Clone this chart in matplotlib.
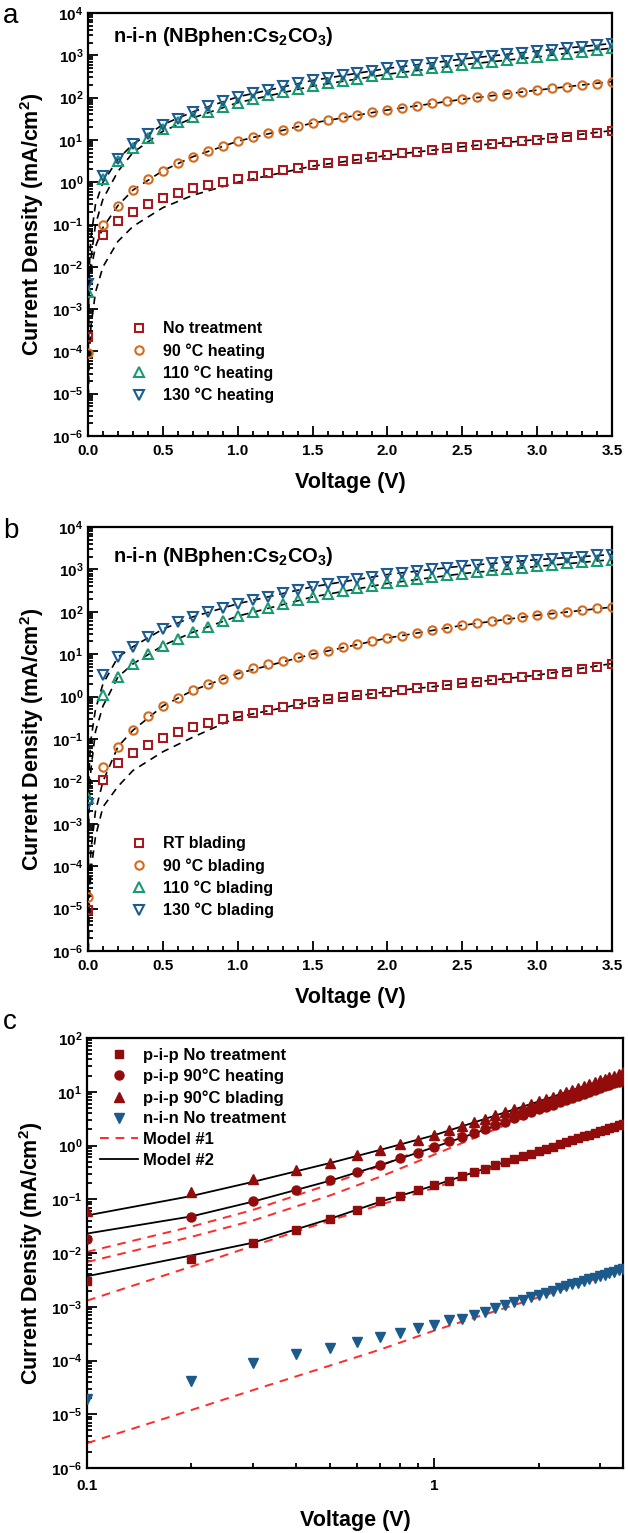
import numpy as np
import matplotlib
matplotlib.use('Agg')
import matplotlib.pyplot as plt
from matplotlib.ticker import FuncFormatter, LogLocator, MultipleLocator, FixedLocator, NullFormatter

plt.rcParams['font.family'] = ['Liberation Sans', 'DejaVu Sans']
plt.rcParams['font.weight'] = 'bold'
plt.rcParams['mathtext.fontset'] = 'custom'
plt.rcParams['mathtext.rm'] = 'Liberation Sans:bold'
plt.rcParams['mathtext.bf'] = 'Liberation Sans:bold'
plt.rcParams['mathtext.it'] = 'Liberation Sans:bold'
plt.rcParams['axes.linewidth'] = 1.6

#### DATA ##############################################################
# panel a / b : voltage sweep 0.0 .. 3.5 V in 0.1 V steps
volt = [0.0, 0.1, 0.2, 0.3, 0.4, 0.5, 0.6, 0.7, 0.8, 0.9, 1.0, 1.1, 1.2, 1.3, 1.4, 1.5, 1.6, 1.7,
        1.8, 1.9, 2.0, 2.1, 2.2, 2.3, 2.4, 2.5, 2.6, 2.7, 2.8, 2.9, 3.0, 3.1, 3.2, 3.3, 3.4, 3.5]

# panel a (heating)
a_none = [2.2e-4, 0.055, 0.12, 0.20, 0.30, 0.42, 0.55, 0.71, 0.85, 1.02, 1.2, 1.4, 1.65, 1.9, 2.2, 2.5,
          2.8, 3.15, 3.5, 3.9, 4.35, 4.8, 5.25, 5.75, 6.3, 6.9, 7.4, 8.1, 8.7, 9.5, 10.2, 11.2, 12.0,
          13.2, 14.5, 16.6]
a_90 = [9e-5, 0.098, 0.28, 0.65, 1.17, 1.87, 2.9, 4.0, 5.5, 7.2, 9.3, 11.8, 14.5, 17.5, 21, 25, 29.5,
        34, 39, 45, 51, 58, 65, 73, 82, 91, 101, 112, 124, 137, 150, 165, 180, 197, 215, 240]
a_110 = [2.5e-3, 1.2, 3.2, 6.5, 11, 18, 26, 34, 46, 60, 76, 94, 114, 136, 160, 187, 216, 248, 282,
         318, 357, 398, 442, 490, 540, 595, 652, 712, 776, 843, 915, 990, 1070, 1200, 1330, 1480]
a_130 = [4e-3, 1.4, 3.5, 7.9, 14, 23, 32, 46, 64, 82, 104, 128, 155, 185, 218, 255, 295, 340, 385,
         435, 490, 545, 605, 670, 740, 815, 895, 980, 1070, 1160, 1260, 1370, 1480, 1600, 1730, 1900]

# dashed model curves, panel a
fit_v = [0.002, 0.005, 0.01, 0.02, 0.05, 0.1, 0.2, 0.3, 0.5, 0.7, 1.0, 1.5, 2.0, 2.5, 3.0, 3.5]
a_fit_none = [4e-6, 2.5e-5, 1e-4, 4e-4, 2.5e-3, 0.01, 0.04, 0.09, 0.25, 0.49, 1.0, 2.4, 4.3, 6.9, 10.2, 16.6]
a_fit_90 = [2e-4, 1.5e-3, 4e-3, 9e-3, 0.03, 0.085, 0.28, 0.65, 1.87, 4.0, 9.3, 25, 51, 91, 150, 240]
a_fit_110 = [1e-4, 1e-3, 4e-3, 0.016, 0.1, 0.4, 1.8, 5.0, 16, 33, 76, 187, 357, 595, 915, 1480]
a_fit_130 = [3e-4, 3e-3, 0.012, 0.05, 0.3, 1.0, 3.5, 7.9, 23, 46, 104, 255, 490, 815, 1260, 1900]

# panel b (blading)
b_rt = [9.3e-6, 0.011, 0.027, 0.046, 0.072, 0.107, 0.145, 0.19, 0.24, 0.29, 0.35, 0.42, 0.49, 0.57,
        0.66, 0.76, 0.86, 0.96, 1.07, 1.18, 1.3, 1.43, 1.57, 1.72, 1.88, 2.05, 2.25, 2.45, 2.7, 2.95,
        3.2, 3.5, 3.9, 4.4, 5.0, 6.0]
b_90 = [1.9e-5, 0.022, 0.066, 0.16, 0.34, 0.6, 0.94, 1.4, 1.95, 2.6, 3.5, 4.6, 5.8, 7.1, 8.5, 10, 12,
        14.4, 17.4, 20.4, 24, 27.5, 31.6, 36.3, 41.7, 47.9, 53.7, 60, 67.6, 75.9, 83, 91, 100, 110,
        120, 129]
b_110 = [4e-3, 1.1, 2.9, 5.9, 10, 16, 23, 33, 45, 60, 79, 100, 126, 155, 186, 224, 263, 309, 355, 407,
         468, 525, 589, 661, 724, 794, 871, 955, 1023, 1096, 1175, 1259, 1380, 1479, 1585, 1698]
b_130 = [3e-3, 3.2, 8.5, 15, 25, 39, 58, 76, 100, 126, 155, 190, 229, 275, 331, 389, 447, 513, 589,
         676, 759, 832, 912, 1000, 1096, 1202, 1288, 1380, 1479, 1585, 1698, 1778, 1905, 1995, 2138, 2239]

b_fit_rt = [1e-6, 5e-6, 2e-5, 8e-5, 5e-4, 2.5e-3, 7.6e-3, 0.018, 0.05, 0.11, 0.33, 0.76, 1.3, 2.05, 3.2, 6.0]
b_fit_90 = [1e-6, 1e-5, 5e-5, 2.5e-4, 2e-3, 0.01, 0.066, 0.16, 0.6, 1.4, 3.5, 10, 24, 47.9, 83, 129]
b_fit_110 = [1e-4, 1e-3, 5e-3, 0.02, 0.15, 0.6, 2.9, 5.9, 16, 33, 79, 224, 468, 794, 1175, 1698]
b_fit_130 = [1e-3, 8e-3, 0.03, 0.1, 0.5, 2.0, 8.5, 15, 39, 76, 155, 389, 759, 1202, 1698, 2239]

# panel c (log-log), 0.1 .. 3.5 V
volt_c = volt[1:]
c_pip_none = [2.95e-3, 7.9e-3, 0.0151, 0.0269, 0.0437, 0.0631, 0.0912, 0.117, 0.148, 0.182, 0.221,
              0.266, 0.316, 0.367, 0.427, 0.490, 0.556, 0.631, 0.708, 0.794, 0.871, 0.955, 1.05, 1.15,
              1.26, 1.36, 1.48, 1.58, 1.72, 1.84, 1.97, 2.11, 2.24, 2.37, 2.51]
c_pip_heat = [0.0182, 0.0468, 0.0912, 0.148, 0.224, 0.316, 0.437, 0.575, 0.724, 0.955, 1.19, 1.45,
              1.74, 2.04, 2.40, 2.79, 3.20, 3.63, 4.17, 4.68, 5.19, 5.75, 6.38, 7.00, 7.67, 8.41, 9.12,
              10.0, 10.7, 11.7, 12.6, 13.5, 14.5, 15.5, 16.6]
c_pip_blade = [0.0603, 0.135, 0.234, 0.347, 0.479, 0.661, 0.813, 1.05, 1.26, 1.55, 1.91, 2.29, 2.69,
               3.16, 3.63, 4.17, 4.68, 5.25, 5.89, 6.61, 7.41, 8.13, 8.91, 9.77, 10.7, 11.7, 12.9,
               13.8, 15.1, 16.2, 17.4, 18.6, 20.0, 21.4, 22.9]
c_nin_none = [1.95e-5, 4.07e-5, 9.12e-5, 1.32e-4, 1.74e-4, 2.24e-4, 2.75e-4, 3.31e-4, 3.98e-4, 4.57e-4,
              5.62e-4, 6.03e-4, 6.92e-4, 8.13e-4, 9.33e-4, 1.06e-3, 1.20e-3, 1.35e-3, 1.50e-3, 1.66e-3,
              1.82e-3, 2.0e-3, 2.19e-3, 2.40e-3, 2.60e-3, 2.82e-3, 3.02e-3, 3.24e-3, 3.47e-3, 3.72e-3,
              3.98e-3, 4.27e-3, 4.47e-3, 4.79e-3, 5.13e-3]

# model #1 (red dashed) and model #2 (black) curves
m_v = [0.1, 0.2, 0.3, 0.5, 0.7, 1.0, 1.5, 2.0, 2.5, 3.0, 3.5]
m1_none = [1.3e-3, 5.6e-3, 0.0135, 0.040, 0.079, 0.162, 0.39, 0.72, 1.17, 1.70, 2.4]
m1_heat = [6.8e-3, 0.020, 0.040, 0.117, 0.263, 0.676, 2.0, 4.27, 7.6, 11.7, 16.6]
m1_blade = [0.0105, 0.031, 0.063, 0.19, 0.42, 1.05, 3.16, 6.3, 10.5, 15.8, 22.4]
m1_nin = [2.9e-6, 1.2e-5, 2.8e-5, 8.0e-5, 1.6e-4, 3.6e-4, 8.3e-4, 1.5e-3, 2.4e-3, 3.5e-3, 4.9e-3]
m2_none = [3.7e-3, 9e-3, 0.0155, 0.043, 0.09, 0.18, 0.43, 0.79, 1.26, 1.84, 2.5]
m2_heat = [0.023, 0.048, 0.09, 0.22, 0.43, 0.93, 2.3, 4.5, 7.4, 11, 15.5]
m2_blade = [0.05, 0.115, 0.21, 0.47, 0.83, 1.55, 3.6, 6.6, 10.7, 15.5, 20]

labels_a = ['No treatment', '90 °C heating', '110 °C heating', '130 °C heating']
labels_b = ['RT blading', '90 °C blading', '110 °C blading', '130 °C blading']
labels_c = ['p-i-p No treatment', 'p-i-p 90°C heating', 'p-i-p 90°C blading',
            'n-i-n No treatment', 'Model #1', 'Model #2']
########################################################################

red = '#a5191f'
orange = '#d66a1c'
green = '#199a72'
blue = '#1c5c95'
dred = '#920c0c'
dblue = '#1b5a8a'
mred = '#ff2a2a'

W, H = 628, 1533
fig = plt.figure(figsize=(W / 100, H / 100), dpi=100)


def box(l, t, r, b):
    return [l / W, 1 - b / H, (r - l) / W, (b - t) / H]


def pow_fmt(v, p):
    return r'$10^{%d}$' % int(round(np.log10(v)))


def log_y(ax):
    ax.yaxis.set_major_locator(LogLocator(base=10, numticks=20))
    ax.yaxis.set_minor_locator(LogLocator(base=10, subs=np.arange(2, 10), numticks=20))
    ax.yaxis.set_minor_formatter(NullFormatter())
    ax.yaxis.set_major_formatter(FuncFormatter(pow_fmt))
    ax.tick_params(which='both', direction='in', top=False, right=False, labelsize=11, width=1.3)
    ax.tick_params(which='major', length=7)
    ax.tick_params(which='minor', length=3.5)
    ax.set_ylabel('Current Density (mA/cm$^2$)', fontsize=15.5, fontweight='bold', labelpad=4)


def style_lin(ax):
    ax.set_xlim(0, 3.5)
    ax.set_ylim(1e-6, 1e4)
    ax.set_yscale('log')
    ax.xaxis.set_major_locator(MultipleLocator(0.5))
    ax.xaxis.set_minor_locator(MultipleLocator(0.1))
    ax.xaxis.set_major_formatter(FuncFormatter(lambda v, p: '%.1f' % v))
    log_y(ax)
    ax.tick_params(axis='x', pad=6)
    ax.set_xlabel('Voltage (V)', fontsize=15.5, fontweight='bold', labelpad=10)


def draw_panel(ax, series, fits, labels, ty):
    cols = [red, orange, green, blue]
    marks = ['s', 'o', '^', 'v']
    sizes = [5.4, 6.0, 7.0, 7.0]
    for f in fits:
        ax.plot(fit_v, f, color='black', lw=1.2, ls=(0, (4.5, 3.5)), zorder=2)
    for s, c, m, ms, lab in zip(series, cols, marks, sizes, labels):
        ax.plot(volt, s, ls='none', marker=m, ms=ms, mfc='none', mec=c, mew=1.5, label=lab, zorder=3)
    ax.text(0.048, ty, 'n-i-n (NBphen:Cs$_2$CO$_3$)', transform=ax.transAxes, fontsize=14.5,
            fontweight='bold', va='center')
    ax.legend(loc='center left', bbox_to_anchor=(0.083, 0.174), frameon=False, fontsize=11.5,
              handlelength=1.0, handletextpad=0.95, labelspacing=0.42, borderpad=0, borderaxespad=0)


#### PANEL A
ax1 = fig.add_axes(box(88, 13, 612, 436))
style_lin(ax1)
draw_panel(ax1, [a_none, a_90, a_110, a_130], [a_fit_none, a_fit_90, a_fit_110, a_fit_130], labels_a, 0.945)
fig.text(3 / W, 1 - 16 / H, 'a', fontsize=20, fontweight='normal', va='center')

#### PANEL B
ax2 = fig.add_axes(box(88, 527, 612, 951))
style_lin(ax2)
draw_panel(ax2, [b_rt, b_90, b_110, b_130], [b_fit_rt, b_fit_90, b_fit_110, b_fit_130], labels_b, 0.93)
fig.text(3 / W, 1 - 531 / H, 'b', fontsize=20, fontweight='normal', va='center')

#### PANEL C
ax3 = fig.add_axes(box(87, 1038, 623, 1468))
ax3.set_xscale('log')
ax3.set_yscale('log')
ax3.set_xlim(0.1, 3.5)
ax3.set_ylim(1e-6, 1e2)
for f in [m1_none, m1_heat, m1_blade, m1_nin]:
    ax3.plot(m_v, f, color=mred, lw=1.4, ls=(0, (4.5, 3.5)), zorder=2)
for f in [m2_none, m2_heat, m2_blade]:
    ax3.plot(m_v, f, color='black', lw=1.3, zorder=2)
h1, = ax3.plot(volt_c, c_pip_none, ls='none', marker='s', ms=6, color=dred, zorder=3)
h2, = ax3.plot(volt_c, c_pip_heat, ls='none', marker='o', ms=6.5, color=dred, zorder=3)
h3, = ax3.plot(volt_c, c_pip_blade, ls='none', marker='^', ms=7, color=dred, zorder=3)
h4, = ax3.plot(volt_c, c_nin_none, ls='none', marker='v', ms=7.5, color=dblue, zorder=3)
l1, = ax3.plot([], [], color=mred, lw=1.4, ls=(0, (4.5, 3.5)))
l2, = ax3.plot([], [], color='black', lw=1.3)
ax3.legend([h1, h2, h3, h4, l1, l2], labels_c, loc='center left', bbox_to_anchor=(0.024, 0.8375),
           frameon=False, fontsize=12, handlelength=2.3, handletextpad=0.3, labelspacing=0.35,
           borderpad=0, borderaxespad=0)
ax3.xaxis.set_major_locator(FixedLocator([0.1, 1]))
ax3.xaxis.set_major_formatter(FuncFormatter(lambda v, p: '%g' % v))
ax3.xaxis.set_minor_locator(FixedLocator([0.2, 0.3, 0.4, 0.5, 0.6, 0.7, 0.8, 0.9, 2, 3]))
ax3.xaxis.set_minor_formatter(NullFormatter())
log_y(ax3)
ax3.tick_params(axis='x', pad=8)
ax3.set_xlabel('Voltage (V)', fontsize=15.5, fontweight='bold', labelpad=12)
fig.text(3 / W, 1 - 1022 / H, 'c', fontsize=20, fontweight='normal', va='center')

fig.savefig('out.png', dpi=100)
